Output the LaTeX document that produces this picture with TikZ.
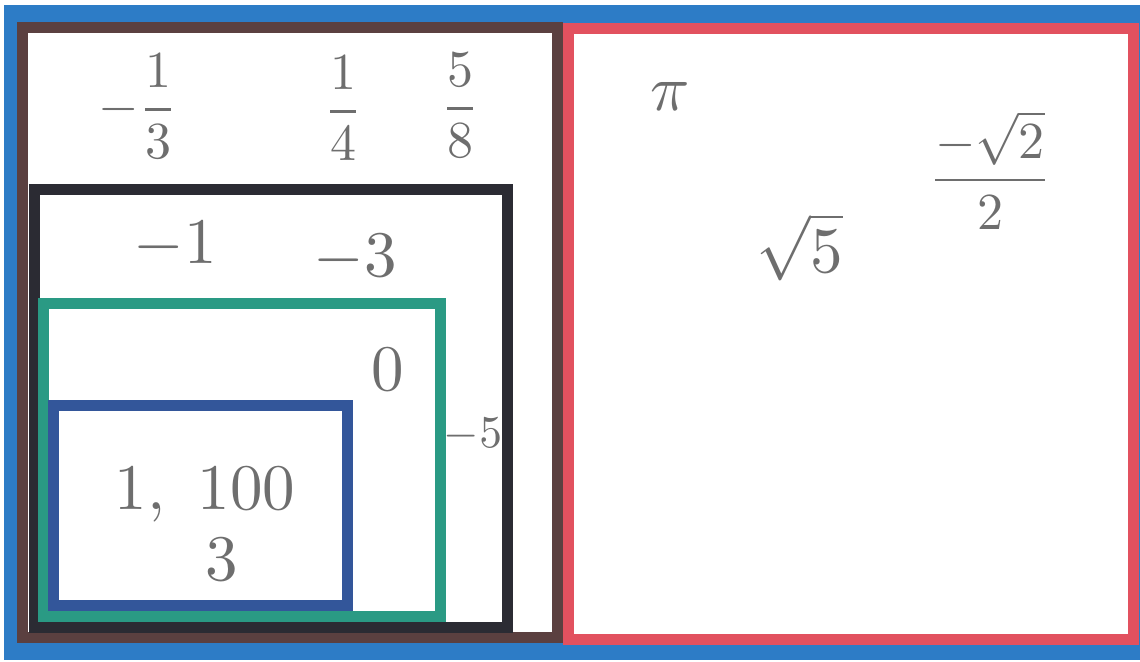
\documentclass[tikz,border=0pt]{standalone}
\usepackage{amsmath}
\usetikzlibrary{positioning}

\definecolor{setblue}{HTML}{2D7CC6}
\definecolor{setbrown}{HTML}{5B4040}
\definecolor{setred}{HTML}{E2515F}
\definecolor{setblack}{HTML}{2B2B33}
\definecolor{setgreen}{HTML}{2A9A84}
\definecolor{setnavy}{HTML}{33569A}
\definecolor{inkgray}{HTML}{6E6E6E}

\begin{document}
\begin{tikzpicture}[
    x=0.4pt, y=-0.4pt,
    % Set boxes - thick coloured borders, white inside
    setbox/.style={fill=white, line width=4.4pt},
    % Handwritten-looking numbers
    numlabel/.style={text=inkgray, scale=2.6, inner sep=0pt},
    fraclabel/.style={numlabel, scale=0.8},
]

% ============================================================
% FRAME: blue background (real numbers)
% ============================================================
\useasboundingbox (0,0) rectangle (1140,661);
\fill[setblue] (4,5) rectangle (1140,660);

% --- Rational (brown) and Irrational (red) ---
\draw[setbox, draw=setbrown] (22.5,27.5) rectangle (557.5,637.5);
\draw[setbox, draw=setred] (568,28) rectangle (1133,639);

% --- Integers (black), Whole (green), Natural (navy) ---
\draw[setbox, draw=setblack] (34.5,189) rectangle (507,627.5);
\draw[setbox, draw=setgreen] (43.5,303) rectangle (440,616);
\draw[setbox, draw=setnavy] (53.5,405.5) rectangle (347,605);

% ============================================================
% NUMBERS
% ============================================================

% Rational row
\node[fraclabel] (thirdneg) at (138,106) {$-\dfrac{1}{3}$};
\node[fraclabel] (quarter) at (343,108) {$\dfrac{1}{4}$};
\node[fraclabel] (fiveeighths) at (460,105) {$\dfrac{5}{8}$};

% Integers
\node[numlabel] (negone) at (175,245) {$-1$};
\node[numlabel] (negthree) at (355,258) {$-3$};
\node[numlabel, scale=0.7] (negfive) at (473,435) {$-5$};

% Whole
\node[numlabel] (zero) at (388,370) {$0$};

% Natural
\node[numlabel] (oneandhundred) at (205,495) {$1,\ 100$};
\node[numlabel] (three) at (222,560) {$3$};

% Irrational
\node[numlabel] (pinum) at (670,97) {$\pi$};
\node[numlabel] (rootfive) at (800,247) {$\sqrt{5}$};
\node[fraclabel] (halfroottwo) at (990,170) {$\dfrac{-\sqrt{2}}{2}$};

\end{tikzpicture}
\end{document}
